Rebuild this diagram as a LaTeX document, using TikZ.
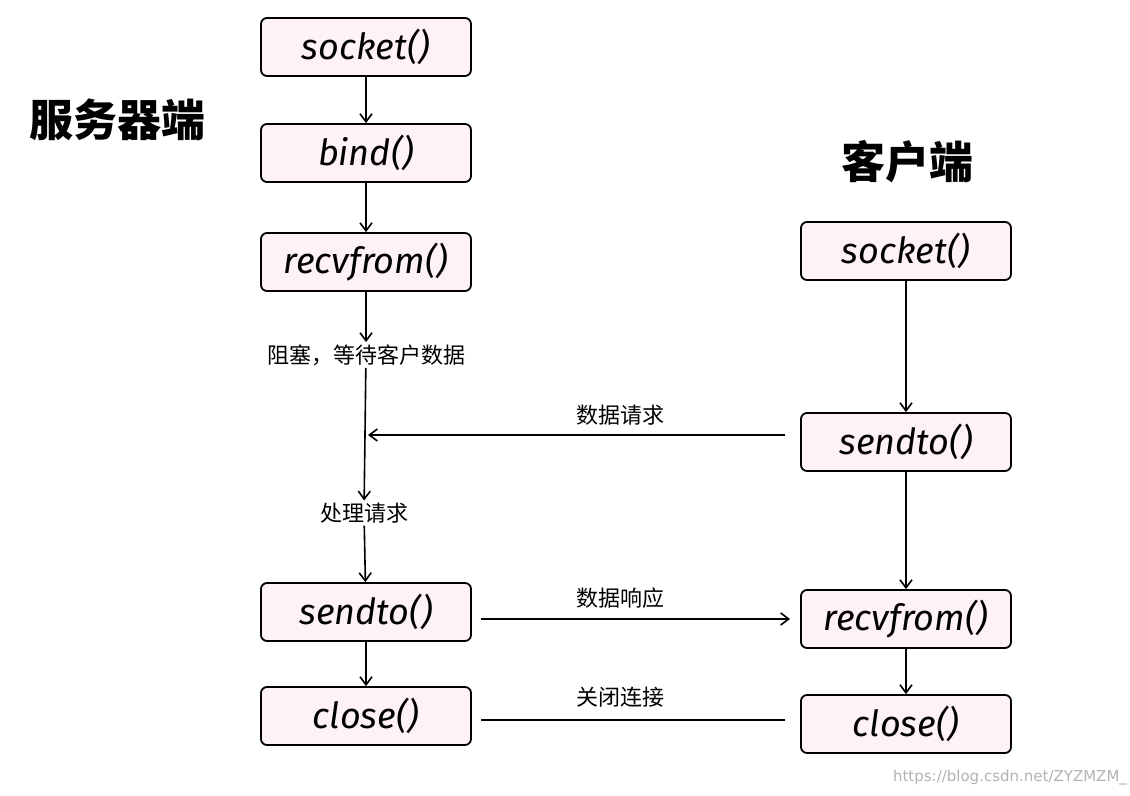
\documentclass[tikz,border=0pt]{standalone}
\usepackage{fontspec}
\setmainfont{DejaVu Sans}
\newfontfamily\cjk{Noto Sans CJK SC}
\newfontfamily\hand{Fira Sans}
\usetikzlibrary{arrows.meta}
\definecolor{boxfill}{RGB}{255,242,245}
\begin{document}
\begin{tikzpicture}[x=0.5pt,y=-0.5pt,
  box/.style={draw,line width=0.9pt,rounded corners=3pt,fill=boxfill,minimum width=105pt,minimum height=29pt,font=\hand\itshape\fontsize{18}{18}\selectfont},
  lbl/.style={font=\cjk\fontsize{11}{12}\selectfont,inner sep=1pt},
  big/.style={font=\cjk\bfseries\fontsize{22}{24}\selectfont},
  ar/.style={-{Straight Barb[length=4pt,width=6pt]},line width=0.8pt}]
\useasboundingbox (0,0) rectangle (1130,796);
\node[big] (ts) at (117,120) {服务器端};
\node[big] (tc) at (907,162) {客户端};
\node[box] (s1) at (366,47) {socket()};
\node[box] (s2) at (366,153) {bind()};
\node[box] (s3) at (366,262) {recvfrom()};
\node[lbl] (l1) at (366,355) {阻塞，等待客户数据};
\node[lbl] (l2) at (364,513) {处理请求};
\node[box] (s4) at (366,612) {sendto()};
\node[box] (s5) at (366,716) {close()};
\node[box] (c1) at (906,251) {socket()};
\node[box] (c2) at (906,442) {sendto()};
\node[box] (c3) at (906,619) {recvfrom()};
\node[box] (c4) at (906,724) {close()};
\draw[ar] (s1) -- (s2);
\draw[ar] (s2) -- (s3);
\draw[ar] (s3) -- (l1);
\draw[ar] (l1) -- (l2);
\draw[ar] (l2) -- (s4);
\draw[ar] (s4) -- (s5);
\draw[ar] (c1) -- (c2);
\draw[ar] (c2) -- (c3);
\draw[ar] (c3) -- (c4);
\coordinate (a1) at (785,435);
\coordinate (a2) at (368,435);
\coordinate (b1) at (481,619);
\coordinate (b2) at (790,619);
\coordinate (d1) at (481,720);
\coordinate (d2) at (785,720);
\draw[ar] (a1) -- (a2);
\draw[ar] (b1) -- (b2);
\draw[line width=0.8pt] (d1) -- (d2);
\node[lbl] (t1) at (620,415) {数据请求};
\node[lbl] (t2) at (620,598) {数据响应};
\node[lbl] (t3) at (620,697) {关闭连接};
\node[font=\fontsize{7.5}{9}\selectfont,text=black!30] (wm) at (1010,778) {https://blog.csdn.net/ZYZMZM\_};
\end{tikzpicture}
\end{document}
